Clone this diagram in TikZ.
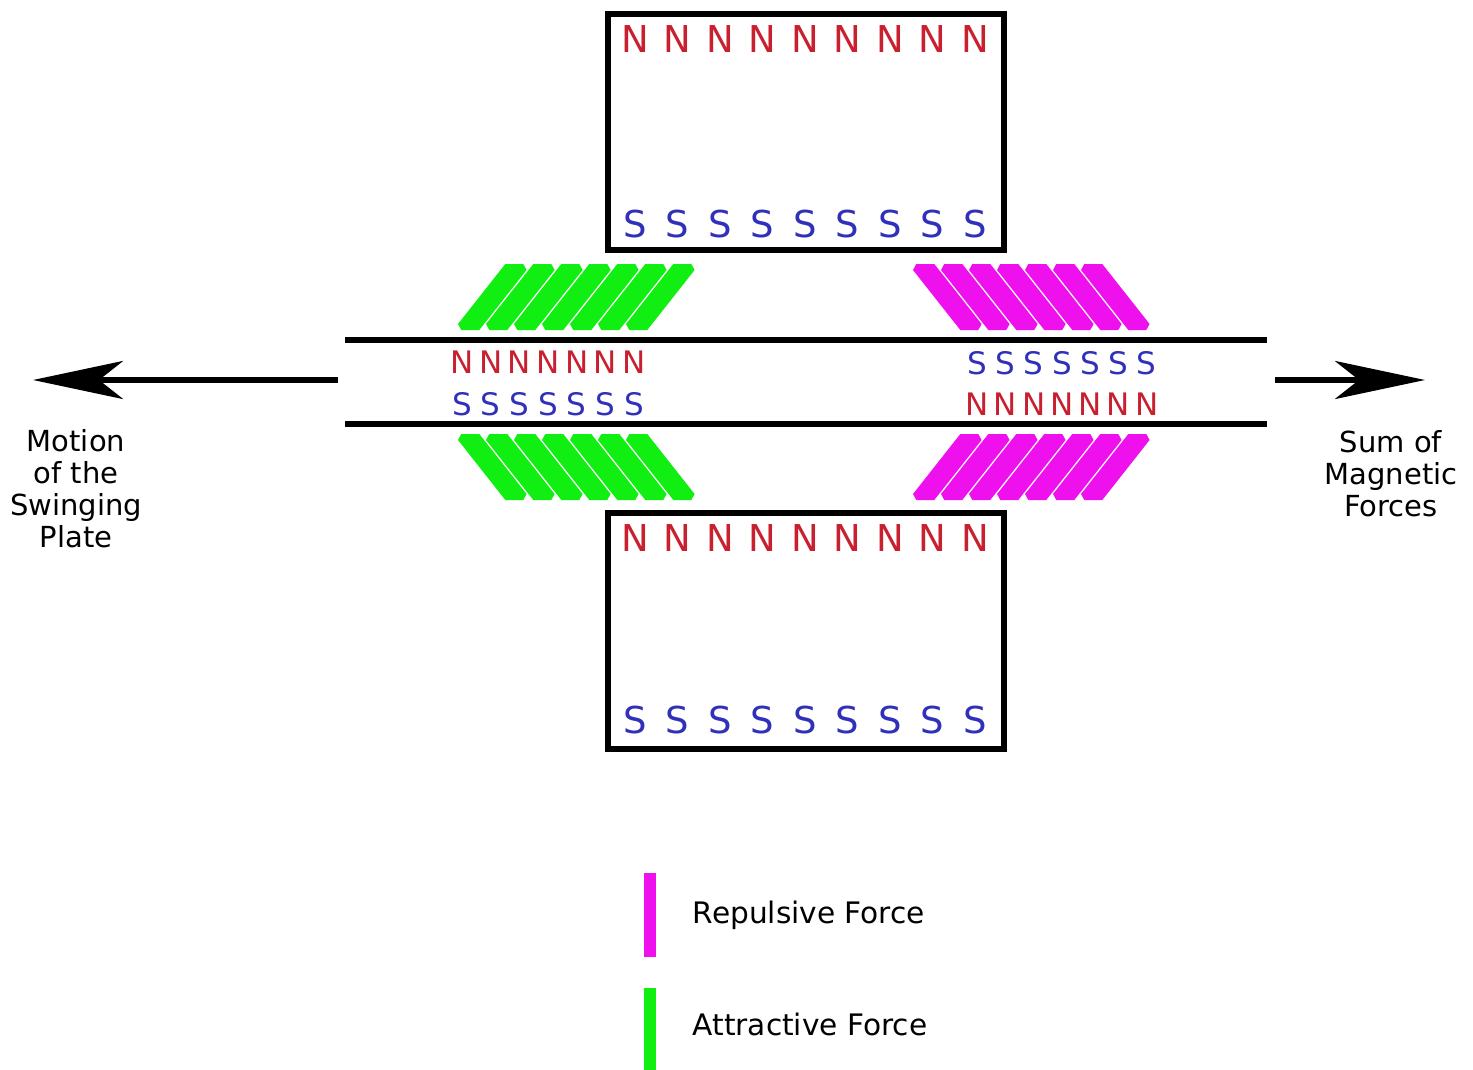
\documentclass[tikz,border=0pt]{standalone}
\usepackage{fontspec}
\setmainfont{DejaVu Sans}
\usetikzlibrary{arrows.meta, positioning}
\definecolor{northred}{HTML}{C8202E}
\definecolor{southblue}{HTML}{3030B8}
\definecolor{attgreen}{HTML}{11EE11}
\definecolor{repmag}{HTML}{EE11EE}

\begin{document}
\begin{tikzpicture}[x=0.5pt, y=-0.5pt,
      magnet/.style={draw, line width=3pt, minimum width=198pt, minimum height=118pt, inner sep=0pt},
      npole/.style={text=northred, font=\fontsize{18.5}{18.5}\selectfont, inner sep=0pt},
      spole/.style={npole, text=southblue},
      nsmall/.style={npole, font=\fontsize{15.5}{15.5}\selectfont},
      ssmall/.style={nsmall, text=southblue},
      plate/.style={line width=3pt},
      stripe/.pic={\fill (8,0) -- (26,0) -- (73.3,-60) -- (70,-66) -- (52,-66) -- (4.7,-6) -- cycle;},
      attract/.style={fill=attgreen},
      repel/.style={fill=repmag},
      motion/.style={line width=3pt, -{Stealth[length=45pt, width=19pt, inset=12pt]}},
      sidetext/.style={align=center, font=\fontsize{14.5}{16}\selectfont, inner sep=0pt},
      keytext/.style={font=\fontsize{14.8}{14.8}\selectfont, inner sep=0pt},
      keybar/.style={minimum width=6pt, minimum height=42pt, inner sep=0pt}]
    \useasboundingbox (0,0) rectangle (1473,1070);
    % magnets above and below the plate
    \node[magnet] (topmag) at (806,132) {};
    \node[magnet] (botmag) at (806,631) {};
    \foreach \i in {0,...,8} {
      \node[npole] (tn\i) at (635+42.5*\i,39) {N};
      \node[spole] (ts\i) at (635+42.5*\i,224) {S};
      \node[npole] (bn\i) at (635+42.5*\i,538) {N};
      \node[spole] (bs\i) at (635+42.5*\i,720) {S};
    }
    % swinging plate
    \coordinate (plul) at (345,340); \coordinate (plur) at (1267,340);
    \coordinate (plll) at (345,424); \coordinate (pllr) at (1267,424);
    \draw[plate] (plul)--(plur); \draw[plate] (plll)--(pllr);
    \foreach \i in {0,...,6} {
      \node[nsmall] (pln\i) at (462+28.7*\i,362) {N};
      \node[ssmall] (pls\i) at (462+28.7*\i,404) {S};
      \node[ssmall] (prs\i) at (977+28.3*\i,363) {S};
      \node[nsmall] (prn\i) at (977+28.3*\i,404) {N};
    }
    % force stripes
    \foreach \k in {0,...,6} {
      \pic[attract] at (453.3+28*\k,330) {stripe};
      \pic[attract, yscale=-1] at (453.3+28*\k,434) {stripe};
      \pic[repel, xscale=-1] at (986.3+28*\k,330) {stripe};
      \pic[repel] at (908.3+28*\k,500) {stripe};
    }
    % arrows and their texts
    \coordinate (ltail) at (338,380); \coordinate (lhead) at (33,380);
    \coordinate (rtail) at (1275,380); \coordinate (rhead) at (1425,380);
    \draw[motion] (ltail)--(lhead); \draw[motion] (rtail)--(rhead);
    \node[sidetext] (mtext) at (76,489) {Motion\\of the\\Swinging\\Plate};
    \node[sidetext] (stext) at (1391,474) {Sum of\\Magnetic\\Forces};
    % key
    \node[keybar, fill=repmag] (repbar) at (650,915) {};
    \node[keybar, fill=attgreen] (attbar) at (650,1030) {};
    \node[keytext, right=18pt of repbar] (reptext) {Repulsive Force};
    \node[keytext, right=18pt of attbar, yshift=3pt] (atttext) {Attractive Force};
  \end{tikzpicture}
\end{document}
